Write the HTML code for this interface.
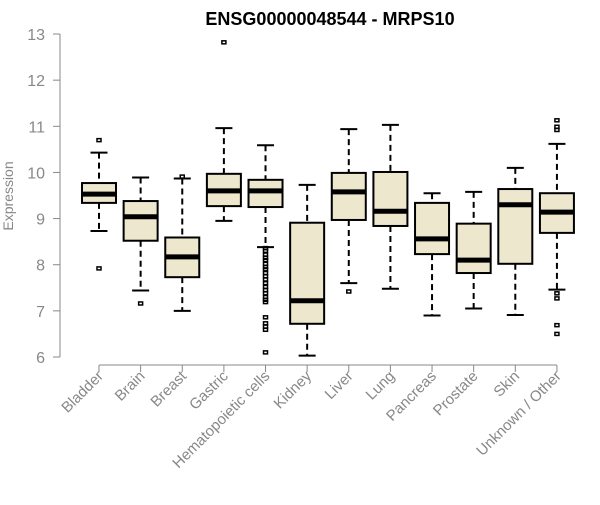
<!DOCTYPE html>
<html><head><meta charset="utf-8"><style>
body{margin:0;background:#fff}
svg text{font-family:"Liberation Sans",Arial,sans-serif}
</style></head><body>
<svg id="chart" width="600" height="500" xmlns="http://www.w3.org/2000/svg">
<text x="330" y="25" text-anchor="middle" font-size="18" font-weight="bold">ENSG00000048544 - MRPS10</text>
<text transform="translate(13,196) rotate(-90)" text-anchor="middle" font-size="14" fill="#888">Expression</text>
<g id="yaxis"></g>
<g id="xaxis"></g>
<g id="boxes"></g>
</svg>
<script>
const categories=["Bladder","Brain","Breast","Gastric","Hematopoietic cells","Kidney","Liver","Lung","Pancreas","Prostate","Skin","Unknown / Other"];
const lowWhisker=[8.73,7.44,7.00,8.95,8.38,6.03,7.60,7.48,6.90,7.05,6.91,7.46];
const q1=[9.34,8.52,7.73,9.27,9.25,6.72,8.97,8.84,8.23,7.82,8.02,8.69];
const medians=[9.53,9.04,8.17,9.60,9.60,7.22,9.58,9.16,8.56,8.10,9.30,9.14];
const q3=[9.77,9.38,8.59,9.97,9.84,8.91,9.99,10.01,9.34,8.89,9.64,9.55];
const highWhisker=[10.43,9.89,9.87,10.96,10.59,9.73,10.94,11.03,9.55,9.58,10.10,10.62];
const outliers=[[10.70,7.92],[7.16],[9.91],[12.82],[8.36,8.3,8.22,8.15,8.1,8.02,7.95,7.9,7.82,7.75,7.68,7.6,7.52,7.45,7.38,7.3,7.24,7.19,6.86,6.73,6.66,6.59,6.10],[],[7.42],[],[],[],[],[11.13,10.99,10.92,7.38,7.27,6.69,6.50]];
const yTicks=[6,7,8,9,10,11,12,13];
const NS="http://www.w3.org/2000/svg";
const y=v=>357-(v-6)*46.14;
const x=i=>99+i*41.63;
function mk(tag,attrs,parent){const e=document.createElementNS(NS,tag);for(const k in attrs)e.setAttribute(k,attrs[k]);parent.appendChild(e);return e;}
const ya=document.getElementById('yaxis'),xa=document.getElementById('xaxis'),bx=document.getElementById('boxes');
mk('line',{x1:60,x2:60,y1:y(13),y2:y(6),stroke:'#888'},ya);
yTicks.forEach(t=>{
 const l=mk('line',{x1:53,x2:60,y1:y(t),y2:y(t),stroke:'#888'},ya);
 
 
 const tx=mk('text',{x:45,y:y(t)+6,'text-anchor':'end','font-size':16,fill:'#888'},ya);
 tx.textContent=t;
 
 
});
mk('line',{x1:x(0),x2:x(categories.length-1),y1:365,y2:365,stroke:'#888'},xa);
categories.forEach((c,i)=>{
 const cx=x(i);
 const tk=mk('line',{x1:cx,x2:cx,y1:365,y2:372,stroke:'#888'},xa);
 
 
 const tx=mk('text',{transform:`translate(${cx+5},${377}) rotate(-45)`,'text-anchor':'end','font-size':15,fill:'#888'},xa);
 tx.textContent=c;
 
 
 const g=mk('g',{},bx);
 
 
 const w=17,cw=8.5;
 mk('line',{x1:cx,x2:cx,y1:y(highWhisker[i]),y2:y(q3[i]),stroke:'#000','stroke-width':2,'stroke-dasharray':'6,4'},g);
 mk('line',{x1:cx,x2:cx,y1:y(q1[i]),y2:y(lowWhisker[i]),stroke:'#000','stroke-width':2,'stroke-dasharray':'6,4'},g);
 mk('line',{x1:cx-cw,x2:cx+cw,y1:y(highWhisker[i]),y2:y(highWhisker[i]),stroke:'#000','stroke-width':2},g);
 mk('line',{x1:cx-cw,x2:cx+cw,y1:y(lowWhisker[i]),y2:y(lowWhisker[i]),stroke:'#000','stroke-width':2},g);
 mk('rect',{x:cx-w,y:y(q3[i]),width:2*w,height:y(q1[i])-y(q3[i]),fill:'#EDE7CE',stroke:'#000','stroke-width':2},g);
 mk('line',{x1:cx-w,x2:cx+w,y1:y(medians[i]),y2:y(medians[i]),stroke:'#000','stroke-width':5},g);
 outliers[i].forEach(v=>{
  const p=mk('rect',{x:cx-2,y:y(v)-1.5,width:4,height:3,fill:'none',stroke:'#000','stroke-width':1.5},g);
  
  
 });
});
</script>
</body></html>
